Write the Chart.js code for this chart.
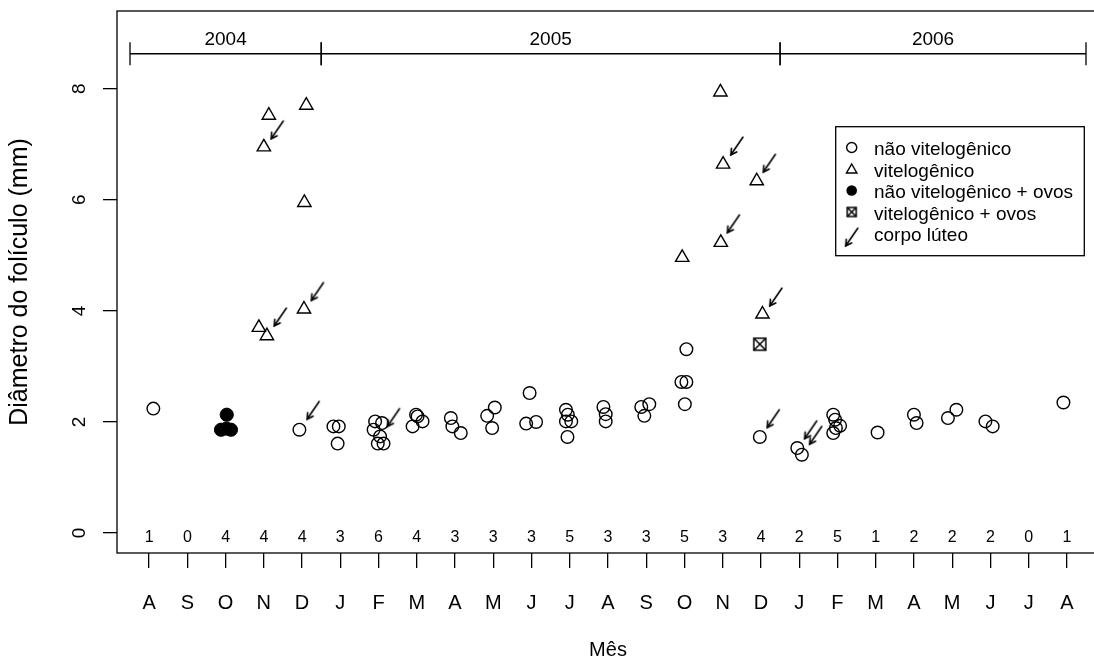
<!DOCTYPE html>
<html lang="pt">
<head>
<meta charset="UTF-8">
<title>Diâmetro do folículo por mês</title>
<script src="https://cdn.jsdelivr.net/npm/chart.js@4"></script>
<style>
  html, body { margin: 0; padding: 0; background: #fff; overflow: hidden; }
  #wrap { width: 1110px; height: 670px; }
</style>
</head>
<body>
<div id="wrap"><canvas id="chart"></canvas></div>
<script>
// months from Aug 2004 to Aug 2006, x = month index
const months = ['A','S','O','N','D','J','F','M','A','M','J','J','A','S','O','N','D','J','F','M','A','M','J','J','A'];
const counts = [1,0,4,4,4,3,6,4,3,3,3,5,3,3,5,3,4,2,5,1,2,2,2,0,1];
const yearLabels = ['2004', '2005', '2006'];
const yearStart = [-0.5, 4.5, 16.5];
const yearEnd = [4.5, 16.5, 24.5];
const yTicks = [0, 2, 4, 6, 8];

// [month index, diameter mm]
const naoVitelogenico = [
  [0.11,2.24],[3.93,1.86],[4.82,1.92],[4.96,1.92],[4.93,1.61],
  [5.91,2.01],[6.09,1.98],[5.87,1.86],[6.04,1.74],[5.98,1.61],[6.13,1.61],
  [6.98,2.13],[7.02,2.10],[7.15,2.01],[6.89,1.92],
  [7.89,2.07],[7.93,1.92],[8.15,1.80],
  [8.84,2.11],[9.04,2.26],[8.97,1.89],
  [9.95,2.52],[9.86,1.97],[10.12,2.00],
  [10.90,2.22],[10.95,2.13],[10.90,2.01],[11.04,2.01],[10.94,1.73],
  [11.88,2.27],[11.94,2.14],[11.94,2.01],
  [12.87,2.27],[13.08,2.32],[12.95,2.11],
  [14.05,3.31],[13.92,2.72],[14.05,2.72],[14.01,2.32],
  [15.97,1.73],[16.95,1.53],[17.07,1.41],
  [17.89,2.13],[17.94,2.04],[18.07,1.93],[17.96,1.89],[17.89,1.80],
  [19.05,1.81],[20.00,2.13],[20.07,1.98],[20.89,2.07],[21.11,2.22],
  [21.87,2.01],[22.06,1.92],[23.91,2.35]
];
const vitelogenico = [
  [3.13,7.52],[3.00,6.95],[2.87,3.70],[3.08,3.55],
  [4.11,7.70],[4.06,5.95],[4.05,4.03],
  [13.94,4.96],[14.94,7.94],[15.01,6.64],[14.95,5.23],
  [15.89,6.34],[16.04,3.94]
];
const naoVitOvos = [[1.88,1.86],[2.14,1.86],[2.03,2.13],[2.02,1.88]];
const vitOvos = [[15.97,3.40]];
const corpoLuteo = [
  [3.35,7.26],[3.43,3.89],[4.40,4.35],[4.29,2.21],[6.39,2.08],
  [15.37,6.97],[15.28,5.57],[16.22,6.66],[16.39,4.25],[16.32,2.06],
  [17.30,1.86],[17.43,1.76]
];

const FONT = '"Liberation Sans", Arial, sans-serif';
const toXY = arr => arr.map(p => ({x: p[0], y: p[1]}));

function arrowImage() {
  const c = document.createElement('canvas');
  c.width = 22; c.height = 26;
  const g = c.getContext('2d');
  g.strokeStyle = '#000'; g.lineWidth = 1.6; g.lineCap = 'round';
  const x1 = 11 + 6, y1 = 13 - 8.8, x0 = 11 - 6, y0 = 13 + 8.8;
  g.beginPath(); g.moveTo(x1, y1); g.lineTo(x0, y0); g.stroke();
  const ang = Math.atan2(y1 - y0, x1 - x0), hl = 6.5;
  g.beginPath();
  g.moveTo(x0 + hl * Math.cos(ang + 0.52), y0 + hl * Math.sin(ang + 0.52));
  g.lineTo(x0, y0);
  g.lineTo(x0 + hl * Math.cos(ang - 0.52), y0 + hl * Math.sin(ang - 0.52));
  g.stroke();
  return c;
}
function crossSquare(s) {
  const c = document.createElement('canvas');
  c.width = s + 4; c.height = s + 4;
  const g = c.getContext('2d');
  g.strokeStyle = '#000'; g.lineWidth = 1.5;
  g.strokeRect(2, 2, s, s);
  g.beginPath(); g.moveTo(2, 2); g.lineTo(2 + s, 2 + s);
  g.moveTo(2 + s, 2); g.lineTo(2, 2 + s); g.stroke();
  return c;
}
const arrowImg = arrowImage();
const squareImg = crossSquare(12);
const squareSmall = crossSquare(9);

const extras = {
  id: 'extras',
  afterDatasetsDraw(chart) {
    const {ctx, chartArea: a, scales: {x, y}} = chart;
    ctx.save();
    ctx.strokeStyle = '#000';
    ctx.fillStyle = '#000';
    ctx.lineWidth = 1.3;
    ctx.strokeRect(a.left, a.top, a.right - a.left, a.bottom - a.top);

    // y tick labels, rotated as in R
    ctx.font = '19px ' + FONT;
    ctx.textAlign = 'center';
    ctx.textBaseline = 'middle';
    yTicks.forEach(v => {
      ctx.save();
      ctx.translate(80, y.getPixelForValue(v));
      ctx.rotate(-Math.PI / 2);
      ctx.fillText(String(v), 0, 0);
      ctx.restore();
    });

    // sample sizes
    ctx.font = '16px ' + FONT;
    counts.forEach((n, i) => ctx.fillText(String(n), x.getPixelForValue(i), y.getPixelForValue(-0.085)));

    // year brackets
    const by = y.getPixelForValue(8.63), cap = 11.5;
    ctx.font = '19px ' + FONT;
    yearLabels.forEach((lab, i) => {
      const x0 = x.getPixelForValue(yearStart[i]), x1 = x.getPixelForValue(yearEnd[i]);
      ctx.beginPath();
      ctx.moveTo(x0, by); ctx.lineTo(x1, by);
      ctx.moveTo(x0, by - cap); ctx.lineTo(x0, by + cap);
      ctx.moveTo(x1, by - cap); ctx.lineTo(x1, by + cap);
      ctx.stroke();
      ctx.fillText(lab, (x0 + x1) / 2, y.getPixelForValue(8.88));
    });

    // legend
    const lx = 835.7, ly = 126.7, lw = 248.6, lh = 129;
    ctx.strokeRect(lx, ly, lw, lh);
    const sx = 851.7, tx = 874;
    const rows = [150, 171.5, 193, 214.5, 236];
    ctx.textAlign = 'left';
    ctx.font = '19px ' + FONT;
    ctx.lineWidth = 1.4;
    chart.data.datasets.forEach((ds, i) => {
      const ry = rows[i];
      const sy = ry - 2.5;
      if (ds.pointStyle === 'circle') {
        ctx.beginPath();
        ctx.arc(sx, sy, ds.pointRadius * 0.8, 0, Math.PI * 2);
        if (ds.pointBackgroundColor === '#000') ctx.fill(); else ctx.stroke();
      } else if (ds.pointStyle === 'triangle') {
        const r = 6, cy = sy + 1;
        ctx.beginPath();
        ctx.moveTo(sx, cy - r);
        ctx.lineTo(sx + 0.866 * r, cy + 0.5 * r);
        ctx.lineTo(sx - 0.866 * r, cy + 0.5 * r);
        ctx.closePath();
        ctx.stroke();
      } else if (ds.pointStyle === squareImg) {
        ctx.drawImage(squareSmall, sx - squareSmall.width / 2, sy - squareSmall.height / 2);
      } else {
        ctx.drawImage(arrowImg, sx - arrowImg.width / 2, ry - arrowImg.height / 2 + 1);
      }
      ctx.fillText(ds.label, tx, ry);
    });
    ctx.restore();
  }
};

new Chart(document.getElementById('chart'), {
  type: 'scatter',
  data: {
    datasets: [
      { label: 'não vitelogênico', data: toXY(naoVitelogenico), pointStyle: 'circle',
        pointRadius: 6.3, pointBorderWidth: 1.4, pointBorderColor: '#000', pointBackgroundColor: 'rgba(0,0,0,0)' },
      { label: 'vitelogênico', data: toXY(vitelogenico), pointStyle: 'triangle',
        pointRadius: 7.7, pointBorderWidth: 1.4, pointBorderColor: '#000', pointBackgroundColor: 'rgba(0,0,0,0)' },
      { label: 'não vitelogênico + ovos', data: toXY(naoVitOvos), pointStyle: 'circle',
        pointRadius: 6.6, pointBorderWidth: 1, pointBorderColor: '#000', pointBackgroundColor: '#000' },
      { label: 'vitelogênico + ovos', data: toXY(vitOvos), pointStyle: squareImg, pointRadius: 7 },
      { label: 'corpo lúteo', data: toXY(corpoLuteo), pointStyle: arrowImg, pointRadius: 10 }
    ]
  },
  options: {
    responsive: true,
    maintainAspectRatio: false,
    animation: false,
    events: [],
    layout: { padding: { left: 0, top: 11, right: 8, bottom: 0 } },
    plugins: { legend: { display: false }, tooltip: { enabled: false } },
    scales: {
      x: {
        type: 'linear', min: -0.84, max: 24.84,
        afterBuildTicks: s => { s.ticks = months.map((m, i) => ({ value: i })); },
        afterFit: s => { s.height = 117; },
        ticks: { autoSkip: false, maxRotation: 0, color: '#000', padding: 23,
                 font: { family: FONT, size: 20 }, callback: v => months[v] },
        grid: { display: true, drawOnChartArea: false, drawTicks: true, tickLength: 15, color: '#000', lineWidth: 1.3 },
        border: { display: false },
        title: { display: true, text: 'Mês', color: '#000', font: { family: FONT, size: 20 },
                 padding: { top: 0, bottom: 8 } }
      },
      y: {
        type: 'linear', min: -0.36, max: 9.4,
        afterBuildTicks: s => { s.ticks = yTicks.map(v => ({ value: v })); },
        afterFit: s => { s.width = 117; },
        ticks: { display: false },
        grid: { display: true, drawOnChartArea: false, drawTicks: true, tickLength: 14, color: '#000', lineWidth: 1.3 },
        border: { display: false },
        title: { display: true, text: 'Diâmetro do folículo (mm)', color: '#000', font: { family: FONT, size: 25 },
                 padding: { top: 5, bottom: 0 } }
      }
    }
  },
  plugins: [extras]
});
</script>
</body>
</html>
